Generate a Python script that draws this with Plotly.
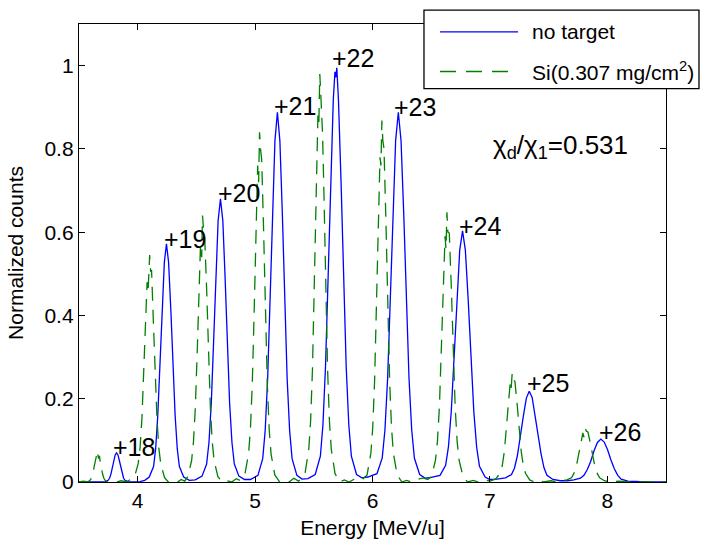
import plotly.graph_objects as go

# ---- data ----
blue_energy = [
    3.50, 3.60, 3.70,
    3.724, 3.748, 3.760, 3.772, 3.784, 3.796, 3.808, 3.820, 3.832, 3.844, 3.856, 3.868, 3.880, 3.892, 3.916,
    3.96, 4.02, 4.06,
    4.098, 4.135, 4.153, 4.171, 4.190, 4.208, 4.227, 4.245, 4.263, 4.282, 4.300, 4.319, 4.337, 4.355, 4.392,
    4.44, 4.49,
    4.548, 4.587, 4.607, 4.627, 4.646, 4.666, 4.685, 4.705, 4.725, 4.744, 4.764, 4.783, 4.803, 4.823, 4.862,
    4.91, 4.96,
    5.024, 5.065, 5.086, 5.107, 5.128, 5.148, 5.169, 5.190, 5.211, 5.232, 5.252, 5.273, 5.294, 5.315, 5.356,
    5.40, 5.45,
    5.512, 5.556, 5.578, 5.600, 5.622, 5.644, 5.666, 5.680, 5.688, 5.696, 5.710, 5.732, 5.754, 5.776, 5.798, 5.820, 5.864,
    5.91, 5.96,
    6.038, 6.083, 6.106, 6.129, 6.152, 6.174, 6.197, 6.220, 6.243, 6.266, 6.288, 6.311, 6.334, 6.357, 6.402,
    6.45, 6.50,
    6.575, 6.623, 6.647, 6.671, 6.695, 6.719, 6.743, 6.767, 6.791, 6.815, 6.839, 6.863, 6.887, 6.911, 6.959,
    7.00, 7.06, 7.10,
    7.133, 7.184, 7.209, 7.234, 7.260, 7.285, 7.310, 7.335, 7.360, 7.385, 7.411, 7.436, 7.461, 7.486, 7.537,
    7.60, 7.66,
    7.715, 7.772, 7.801, 7.830, 7.859, 7.887, 7.916, 7.945, 7.974, 8.003, 8.031, 8.060, 8.089, 8.118, 8.175,
    8.25, 8.35, 8.50,
]
blue_counts = [
    0.000, 0.000, 0.000,
    0.001, 0.004, 0.009, 0.019, 0.034, 0.051, 0.065, 0.070, 0.065, 0.051, 0.034, 0.019, 0.009, 0.004, 0.001,
    0.000, 0.001, 0.004,
    0.012, 0.037, 0.080, 0.160, 0.279, 0.415, 0.528, 0.572, 0.528, 0.415, 0.279, 0.159, 0.080, 0.037, 0.012,
    0.004, 0.005,
    0.014, 0.043, 0.095, 0.190, 0.331, 0.494, 0.628, 0.680, 0.628, 0.494, 0.331, 0.189, 0.095, 0.043, 0.014,
    0.006, 0.006,
    0.016, 0.056, 0.124, 0.249, 0.432, 0.645, 0.820, 0.888, 0.820, 0.645, 0.432, 0.248, 0.124, 0.056, 0.016,
    0.007, 0.008,
    0.018, 0.062, 0.138, 0.279, 0.485, 0.722, 0.918, 0.985, 0.972, 0.995, 0.918, 0.722, 0.485, 0.277, 0.138, 0.062, 0.018,
    0.010, 0.012,
    0.020, 0.058, 0.125, 0.250, 0.432, 0.645, 0.820, 0.888, 0.820, 0.645, 0.432, 0.249, 0.125, 0.057, 0.018,
    0.009, 0.011,
    0.016, 0.040, 0.085, 0.170, 0.294, 0.438, 0.557, 0.603, 0.557, 0.438, 0.294, 0.169, 0.084, 0.038, 0.012,
    0.006, 0.007, 0.008,
    0.010, 0.018, 0.033, 0.063, 0.106, 0.158, 0.201, 0.218, 0.203, 0.162, 0.112, 0.067, 0.034, 0.016, 0.006,
    0.003, 0.003,
    0.005, 0.009, 0.016, 0.030, 0.050, 0.075, 0.095, 0.103, 0.096, 0.077, 0.053, 0.032, 0.016, 0.007, 0.002,
    0.001, 0.000, 0.000,
]

green_energy = [
    3.50, 3.54, 3.57,
    3.585, 3.600, 3.610, 3.620, 3.630, 3.640, 3.648, 3.654, 3.660, 3.667, 3.674, 3.682, 3.692, 3.702, 3.712, 3.725, 3.745,
    3.78, 3.82, 3.86, 3.90, 3.93,
    3.972, 4.004, 4.020, 4.036, 4.052, 4.068, 4.080, 4.088, 4.096, 4.102, 4.110, 4.118, 4.132, 4.148, 4.164, 4.180, 4.196, 4.228,
    4.26, 4.30, 4.34, 4.37, 4.40,
    4.427, 4.459, 4.475, 4.491, 4.507, 4.523, 4.535, 4.545, 4.552, 4.560, 4.571, 4.587, 4.603, 4.619, 4.635, 4.651, 4.683,
    4.72, 4.76, 4.80, 4.84, 4.87,
    4.912, 4.944, 4.960, 4.976, 4.992, 5.008, 5.022, 5.030, 5.038, 5.046, 5.056, 5.072, 5.088, 5.104, 5.120, 5.136, 5.168,
    5.21, 5.25, 5.29, 5.33, 5.37, 5.40,
    5.425, 5.457, 5.473, 5.489, 5.505, 5.521, 5.535, 5.543, 5.551, 5.558, 5.566, 5.574, 5.585, 5.601, 5.617, 5.633, 5.649, 5.681,
    5.72, 5.76, 5.80, 5.84, 5.88, 5.92,
    5.954, 5.986, 6.002, 6.018, 6.034, 6.050, 6.064, 6.072, 6.080, 6.088, 6.098, 6.114, 6.130, 6.146, 6.162, 6.178, 6.210,
    6.25, 6.29, 6.33, 6.38, 6.43, 6.47,
    6.503, 6.536, 6.553, 6.570, 6.587, 6.603, 6.618, 6.626, 6.634, 6.642, 6.654, 6.671, 6.687, 6.704, 6.721, 6.738, 6.771,
    6.81, 6.86, 6.90, 6.95, 7.00, 7.03,
    7.051, 7.087, 7.105, 7.123, 7.141, 7.159, 7.172, 7.180, 7.190, 7.200, 7.213, 7.231, 7.249, 7.267, 7.285, 7.303, 7.339,
    7.38, 7.42, 7.46, 7.52, 7.58, 7.62,
    7.655, 7.695, 7.715, 7.735, 7.755, 7.775, 7.792, 7.800, 7.812, 7.822, 7.835, 7.855, 7.875, 7.895, 7.915, 7.935, 7.975,
    8.02, 8.10, 8.20, 8.50,
]
green_counts = [
    0.000, 0.002, 0.000,
    0.002, 0.006, 0.012, 0.022, 0.038, 0.050, 0.062, 0.052, 0.066, 0.056, 0.063, 0.046, 0.030, 0.018, 0.009, 0.003, 0.000,
    0.001, 0.000, 0.003, 0.000, 0.004,
    0.011, 0.044, 0.082, 0.153, 0.265, 0.396, 0.480, 0.455, 0.530, 0.545, 0.505, 0.510, 0.396, 0.265, 0.153, 0.082, 0.044, 0.011,
    0.000, 0.004, 0.000, 0.006, 0.002,
    0.013, 0.051, 0.096, 0.179, 0.312, 0.465, 0.570, 0.540, 0.640, 0.610, 0.585, 0.465, 0.312, 0.179, 0.096, 0.051, 0.013,
    0.000, 0.003, 0.000, 0.008, 0.004,
    0.017, 0.067, 0.126, 0.235, 0.409, 0.610, 0.760, 0.720, 0.840, 0.800, 0.775, 0.610, 0.409, 0.235, 0.126, 0.067, 0.017,
    0.000, 0.004, 0.000, 0.009, 0.002, 0.010,
    0.020, 0.078, 0.147, 0.274, 0.477, 0.711, 0.880, 0.860, 0.980, 0.940, 0.900, 0.840, 0.711, 0.477, 0.274, 0.147, 0.078, 0.020,
    0.000, 0.005, 0.000, 0.006, 0.012, 0.008,
    0.017, 0.069, 0.130, 0.243, 0.423, 0.630, 0.780, 0.760, 0.868, 0.820, 0.801, 0.630, 0.423, 0.243, 0.130, 0.069, 0.017,
    0.000, 0.004, 0.000, 0.006, 0.010, 0.006,
    0.013, 0.052, 0.097, 0.181, 0.316, 0.470, 0.590, 0.560, 0.648, 0.600, 0.598, 0.470, 0.316, 0.181, 0.097, 0.052, 0.013,
    0.000, 0.004, 0.000, 0.006, 0.002, 0.005,
    0.008, 0.021, 0.039, 0.073, 0.128, 0.190, 0.235, 0.220, 0.262, 0.245, 0.242, 0.190, 0.128, 0.073, 0.039, 0.021, 0.005,
    0.000, 0.004, 0.000, 0.003, 0.000, 0.004,
    0.005, 0.010, 0.020, 0.036, 0.063, 0.094, 0.118, 0.108, 0.130, 0.122, 0.120, 0.094, 0.063, 0.036, 0.020, 0.010, 0.003,
    0.000, 0.002, 0.000, 0.000,
]

charge_labels = ["+18", "+19", "+20", "+21", "+22", "+23", "+24", "+25", "+26"]
label_energy = [3.77, 4.204, 4.663, 5.148, 5.642, 6.17, 6.72, 7.296, 7.911]
label_counts = [0.083, 0.584, 0.694, 0.903, 1.018, 0.901, 0.615, 0.2375, 0.121]

x_ticks = [4, 5, 6, 7, 8]
y_ticks = [0, 0.2, 0.4, 0.6, 0.8, 1]
y_tick_text = ["0", "0.2", "0.4", "0.6", "0.8", "1"]

series_names = ["no target", "Si(0.307 mg/cm<sup>2</sup>)"]
ratio_text = "χ<sub>d</sub>/χ<sub>1</sub>=0.531"

FONT = "Liberation Sans, Arial, Helvetica, sans-serif"
BLUE = "#0000ff"
GREEN = "#008000"
DASH = "14px,9px"

fig = go.Figure()
fig.add_trace(go.Scatter(x=blue_energy, y=blue_counts, mode="lines", name=series_names[0],
                         line=dict(color=BLUE, width=1.3), showlegend=False))
fig.add_trace(go.Scatter(x=green_energy, y=green_counts, mode="lines", name=series_names[1],
                         line=dict(color=GREEN, width=1.3, dash=DASH), showlegend=False))

annotations = []
for t, xv, yv in zip(charge_labels, label_energy, label_counts):
    annotations.append(dict(x=xv, y=yv, xref="x", yref="y", text=t, showarrow=False,
                            xanchor="left", yanchor="middle",
                            font=dict(family=FONT, size=25, color="black")))
annotations.append(dict(x=7.6, y=0.805, xref="x", yref="y", text=ratio_text, showarrow=False,
                        xanchor="center", yanchor="middle",
                        font=dict(family=FONT, size=26, color="black")))

# manual legend (paper coords)
lx0, lx1, ly0, ly1 = 0.5877, 1.0562, 0.859, 1.0302
shapes = [
    dict(type="rect", xref="paper", yref="paper", x0=lx0, x1=lx1, y0=ly0, y1=ly1,
         line=dict(color="black", width=1.3), fillcolor="white", layer="above"),
    dict(type="line", xref="paper", yref="paper", x0=0.615, x1=0.748, y0=0.9827, y1=0.9827,
         line=dict(color=BLUE, width=1.3), layer="above"),
    dict(type="line", xref="paper", yref="paper", x0=0.615, x1=0.748, y0=0.8963, y1=0.8963,
         line=dict(color=GREEN, width=1.3, dash="16px,10px"), layer="above"),
]
annotations.append(dict(x=0.7683, y=0.9827, xref="paper", yref="paper", text=series_names[0],
                        showarrow=False, xanchor="left", yanchor="middle",
                        font=dict(family=FONT, size=21, color="black")))
annotations.append(dict(x=0.7683, y=0.8963, xref="paper", yref="paper", text=series_names[1],
                        showarrow=False, xanchor="left", yanchor="middle",
                        font=dict(family=FONT, size=21, color="black")))

axis_common = dict(showline=True, linecolor="black", linewidth=1.3, mirror="ticks",
                   ticks="inside", ticklen=6, tickwidth=1, tickcolor="black",
                   showgrid=False, zeroline=False,
                   tickfont=dict(family=FONT, size=21, color="black"))

fig.update_layout(
    width=701, height=547,
    margin=dict(l=79, r=35, t=24, b=60),
    paper_bgcolor="white", plot_bgcolor="white",
    xaxis=dict(range=[3.5, 8.5], tickvals=x_ticks,
               title=dict(text="Energy [MeV/u]", font=dict(family=FONT, size=21, color="black"), standoff=8),
               **axis_common),
    yaxis=dict(range=[0, 1.1], tickvals=y_ticks, ticktext=y_tick_text,
               title=dict(text="Normalized counts", font=dict(family=FONT, size=21, color="black"), standoff=15),
               **axis_common),
    shapes=shapes,
    annotations=annotations,
    showlegend=False,
)

fig.write_html("out.html", config={"displayModeBar": False},
               post_script="document.body.style.margin='0';document.body.style.overflow='hidden';")
